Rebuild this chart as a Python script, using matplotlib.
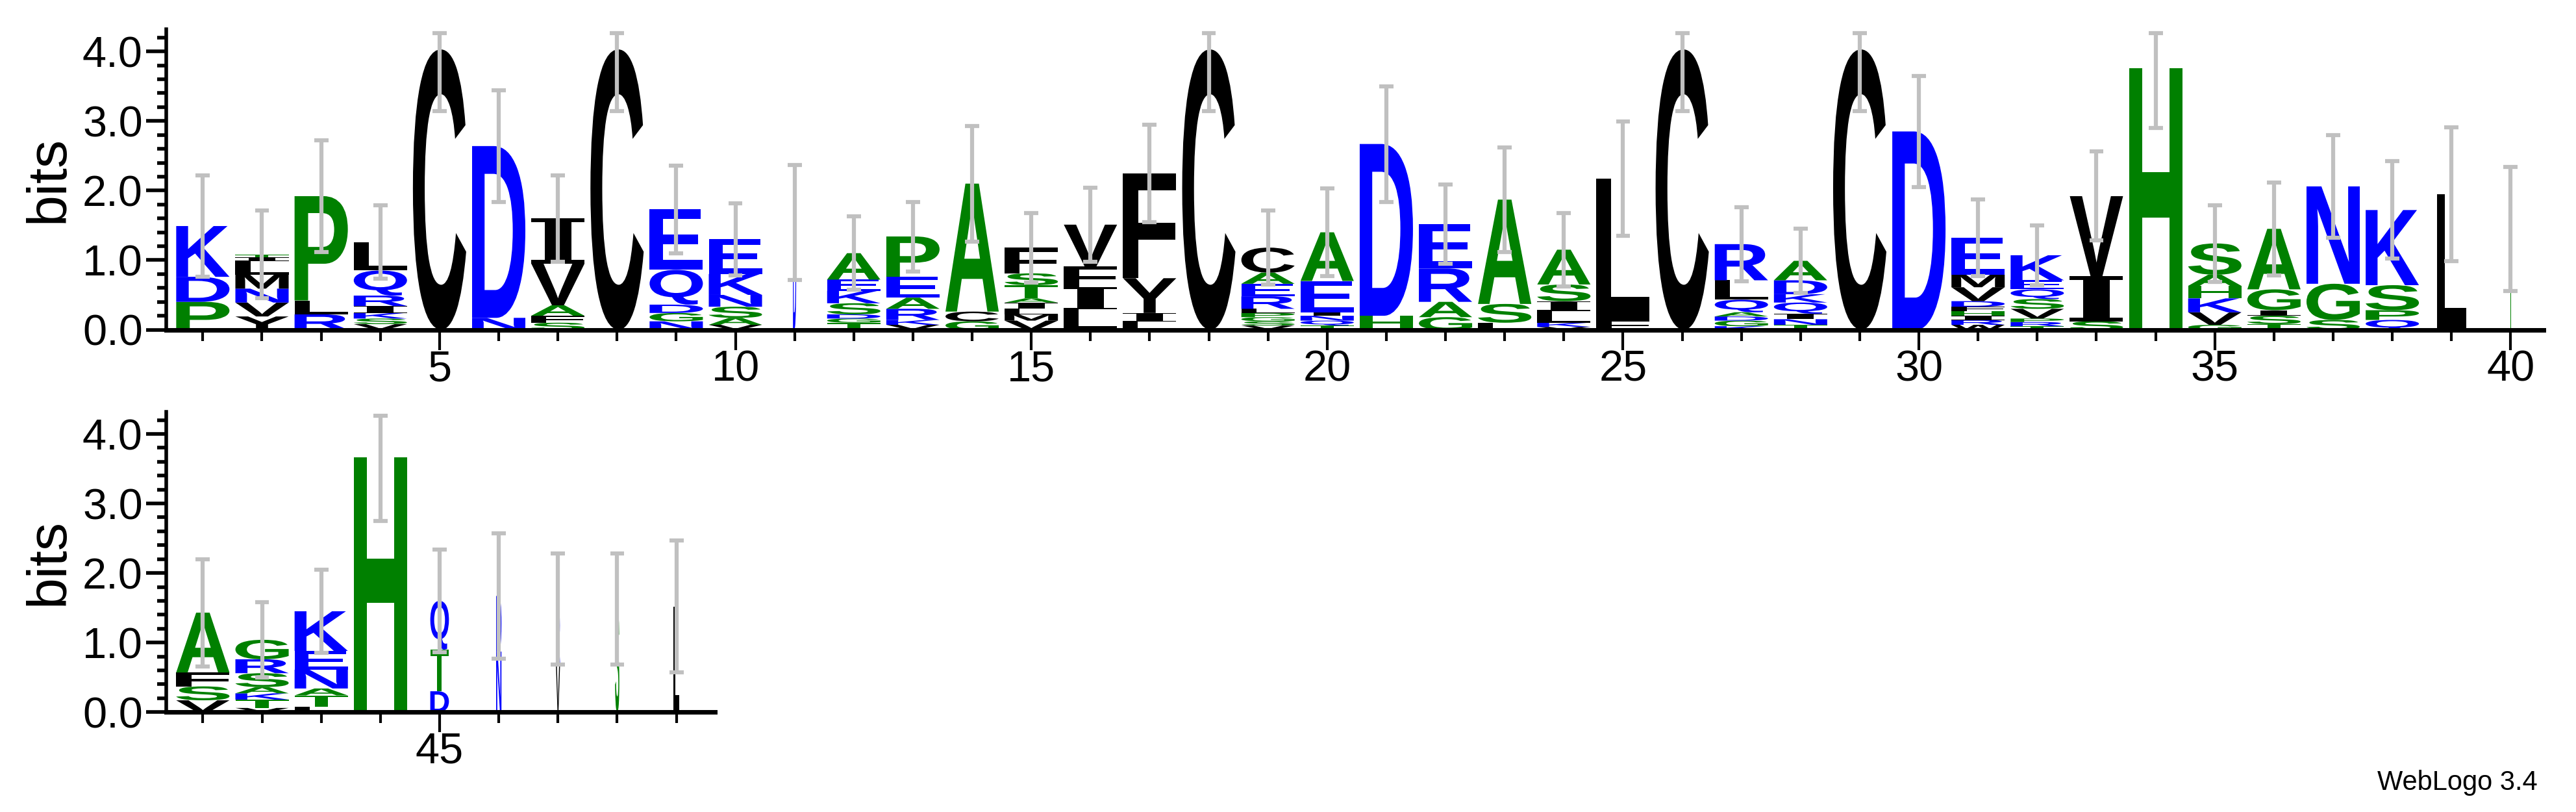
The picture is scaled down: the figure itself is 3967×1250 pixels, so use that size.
import matplotlib
matplotlib.use("Agg")
import matplotlib.pyplot as plt
from matplotlib.textpath import TextPath
from matplotlib.patches import PathPatch
from matplotlib.font_manager import FontProperties, fontManager
from matplotlib.transforms import Affine2D
from matplotlib.ticker import MultipleLocator

# stacks listed bottom -> top, heights in bits
letters = [
    "PDK", "YVNMLIT", "RLP", "VSKIRQL", "C", "ND", "SFAVI", "C", "NGDQE", "VASNKE",
    "D", "TGDSKEA", "VKRAEP", "GCA", "VMLIATSF", "LIFV", "LIYF", "C", "VSGPLREAC", "TQNIEA",
    "HD", "GARE", "LSA", "VKLISA", "FL", "C", "KGDAQLR", "TNIQKDA", "C", "D",
    "WRIHFDVME", "TRPVSQEK", "SIV", "H", "GVKHAS", "TSIGA", "SGN", "QPSK", "L", "T",
    "VSFA", "VTKASRG", "LTANEK", "H", "DTQ", "ND", "VR", "S", "L",
]
heights = [
    [0.40, 0.36, 0.73], [0.19, 0.2, 0.2, 0.2, 0.2, 0.05, 0.04], [0.22, 0.2, 1.5],
    [0.08, 0.08, 0.08, 0.1, 0.15, 0.36, 0.41], [4.03], [0.17, 2.47], [0.1, 0.1, 0.15, 0.6, 0.65],
    [4.03], [0.12, 0.12, 0.12, 0.5, 0.87], [0.07, 0.1, 0.16, 0.17, 0.3, 0.5],
    [1.54], [0.1, 0.06, 0.06, 0.16, 0.18, 0.16, 0.38], [0.07, 0.07, 0.16, 0.16, 0.3, 0.58],
    [0.12, 0.14, 1.84], [0.13, 0.09, 0.08, 0.09, 0.06, 0.19, 0.17, 0.37], [0.29, 0.32, 0.3, 0.6],
    [0.12, 0.12, 0.5, 1.51], [4.03], [0.06, 0.06, 0.06, 0.06, 0.06, 0.18, 0.18, 0.16, 0.36],
    [0.06, 0.07, 0.07, 0.05, 0.45, 0.7],
    [0.2, 2.47], [0.18, 0.22, 0.48, 0.64], [0.1, 0.27, 1.5], [0.04, 0.06, 0.17, 0.14, 0.24, 0.5],
    [0.14, 2.03], [4.03], [0.05, 0.08, 0.06, 0.06, 0.18, 0.28, 0.52],
    [0.07, 0.08, 0.08, 0.16, 0.12, 0.2, 0.28], [4.03], [2.85],
    [0.07, 0.07, 0.06, 0.07, 0.06, 0.08, 0.2, 0.18, 0.53], [0.05, 0.06, 0.05, 0.14, 0.14, 0.14, 0.13, 0.36],
    [0.12, 0.65, 1.15], [3.76], [0.07, 0.18, 0.2, 0.18, 0.16, 0.45], [0.08, 0.12, 0.08, 0.3, 0.87],
    [0.14, 0.52, 1.4], [0.14, 0.14, 0.36, 1.08], [1.95], [1.45],
    [0.17, 0.2, 0.2, 0.86], [0.06, 0.12, 0.09, 0.09, 0.2, 0.2, 0.28], [0.08, 0.16, 0.1, 0.27, 0.27, 0.57],
    [3.66], [0.3, 0.6, 0.7], [0.87, 0.8], [0.7, 0.78], [1.48], [1.52],
]
errors = [
    0.73, 0.63, 0.8, 0.53, 0.89, 0.8, 0.62, 0.89, 0.63, 0.52,
    0.83, 0.53, 0.5, 0.83, 0.5, 0.53, 0.7, 0.89, 0.53, 0.63,
    0.83, 0.57, 0.75, 0.53, 0.82, 0.89, 0.53, 0.46, 0.89, 0.8,
    0.55, 0.43, 0.64, 0.86, 0.55, 0.67, 0.74, 0.7, 0.96, 0.89,
    0.77, 0.54, 0.6, 0.91, 0.74, 0.9, 0.8, 0.8, 0.95,
]
# relative column width (fraction of sequences without gaps)
widths = [1.0] * 49
widths[10] = 0.06
widths[38] = 0.55
widths[39] = 0.05
widths[44] = 0.35
widths[45] = 0.1
widths[46] = 0.08
widths[47] = 0.08
widths[48] = 0.1

BLUE = "#0000ff"
GREEN = "#008000"
BLACK = "#000000"
COLOR_OF = {}
for aa in "RKDENQ":
    COLOR_OF[aa] = BLUE
for aa in "SGHTAP":
    COLOR_OF[aa] = GREEN
for aa in "YVMCLFIW":
    COLOR_OF[aa] = BLACK

ERR_COLOR = "#c0c0c0"
ERR_CAP = 4.26
installed = {f.name for f in fontManager.ttflist}
TEXT_FONT = [f for f in ["Liberation Sans Narrow", "Liberation Sans", "DejaVu Sans"] if f in installed]
LETTER_FONT = FontProperties(family="Liberation Sans", weight="bold")
SERIF_FONT = FontProperties(family="DejaVu Serif", weight="bold")

plt.rcParams["font.family"] = TEXT_FONT


def draw_letter(axis, char, x_center, y_bottom, width, height, color):
    # the I in the logo font carries serifs, so take it from a serif face
    prop = SERIF_FONT if char == "I" else LETTER_FONT
    glyph = TextPath((0, 0), char, size=1, prop=prop)
    box = glyph.get_extents()
    transform = (Affine2D()
                 .translate(-box.x0, -box.y0)
                 .scale(width / box.width, height / box.height)
                 .translate(x_center - width / 2, y_bottom))
    axis.add_patch(PathPatch(transform.transform_path(glyph), facecolor=color,
                             edgecolor="none", lw=0))


def draw_column(axis, position, index):
    y = 0.0
    col_width = 0.9 * widths[index]
    for char, h in zip(letters[index], heights[index]):
        draw_letter(axis, char, position, y, col_width, h, COLOR_OF[char])
        y += h
    low = y - errors[index]
    high = min(y + errors[index], ERR_CAP)
    axis.plot([position, position], [low, high], color=ERR_COLOR, lw=4.5, solid_capstyle="butt", zorder=5)
    for cap_y in (low, high):
        axis.plot([position - 0.12, position + 0.12], [cap_y, cap_y], color=ERR_COLOR, lw=4.5,
                  solid_capstyle="butt", zorder=5)


def style_axis(axis, first, last, xlim):
    axis.set_xlim(*xlim)
    axis.set_ylim(0, 4.32)
    for side in ("top", "right"):
        axis.spines[side].set_visible(False)
    axis.spines["left"].set_linewidth(4)
    axis.spines["bottom"].set_linewidth(5)
    axis.yaxis.set_major_locator(MultipleLocator(1.0))
    axis.yaxis.set_minor_locator(MultipleLocator(0.2))
    axis.yaxis.set_major_formatter(lambda v, _: f"{v:.1f}")
    axis.tick_params(axis="y", which="major", length=22, width=4, labelsize=48, pad=4)
    axis.tick_params(axis="y", which="minor", length=10, width=4)
    ticks = list(range(first, last + 1))
    axis.set_xticks(ticks)
    axis.set_xticklabels([str(t) if t % 5 == 0 else "" for t in ticks])
    axis.tick_params(axis="x", length=12, width=3, labelsize=48, pad=10)
    for tick in axis.xaxis.get_major_ticks():
        if int(round(tick.get_loc())) % 5 == 0:
            tick.tick1line.set_markersize(22)
    axis.set_ylabel("bits", fontsize=62, labelpad=8, family=["Liberation Sans", "DejaVu Sans"])


figure = plt.figure(figsize=(39.67, 12.5), dpi=100)
top_axis = figure.add_axes([0.0645, 0.594, 0.923, 0.37])
bottom_axis = figure.add_axes([0.0645, 0.123, 0.213, 0.37])

for i in range(40):
    draw_column(top_axis, i + 1, i)
for i in range(40, 49):
    draw_column(bottom_axis, i + 1, i)

style_axis(top_axis, 1, 40, (0.38, 40.56))
style_axis(bottom_axis, 41, 49, (40.38, 49.65))

figure.text(0.985, 0.02, "WebLogo 3.4", ha="right", va="bottom", fontsize=30,
            family=["Liberation Sans", "DejaVu Sans"])

figure.savefig("out.png", dpi=100, facecolor="white")
